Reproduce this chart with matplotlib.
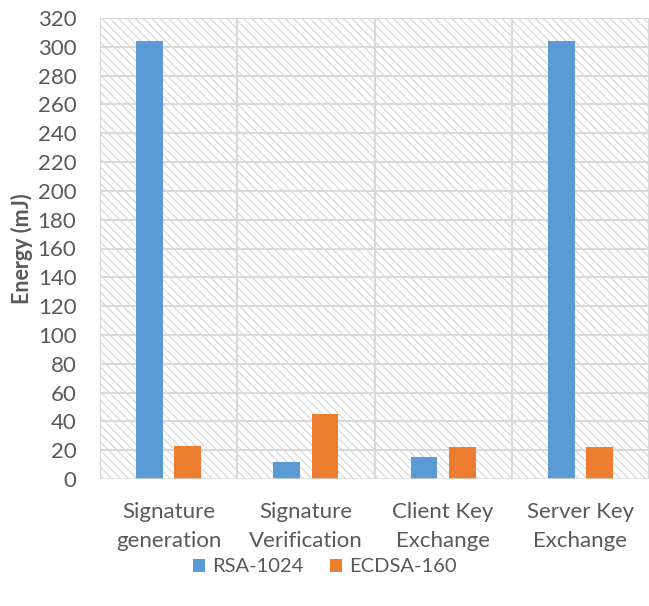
import matplotlib
matplotlib.use("Agg")
import matplotlib.pyplot as plt
from matplotlib.patches import Rectangle
import numpy as np

categories = ["Signature\ngeneration", "Signature\nVerification", "Client Key\nExchange", "Server Key\nExchange"]
rsa_1024 = [304, 12, 15, 304]
ecdsa_160 = [23, 45, 22, 22]
y_ticks = list(range(0, 321, 20))

plt.rcParams["font.family"] = ["Lato", "DejaVu Sans"]
plt.rcParams["hatch.linewidth"] = 0.8

text_color = "#595959"
grid_color = "#d9d9d9"

fig = plt.figure(figsize=(6.49, 6.06), dpi=100)
ax = fig.add_axes([100 / 649, 1 - 479 / 606, 549 / 649, (479 - 18) / 606])

x = np.arange(len(categories))
width = 0.195
offset = 0.14

# hatched plot-area background
bg = Rectangle((0, 0), 1, 1, transform=ax.transAxes, facecolor="white",
               edgecolor="#d6d6d6", hatch="\\\\\\\\", linewidth=0, zorder=0)
ax.add_patch(bg)

ax.bar(x - offset, rsa_1024, width, color="#5b9bd5", label="RSA-1024", zorder=3)
ax.bar(x + offset, ecdsa_160, width, color="#ed7d31", label="ECDSA-160", zorder=3)

ax.set_xlim(-0.5, len(categories) - 0.5)
ax.set_ylim(0, 320)
ax.set_yticks(y_ticks)
ax.set_xticks(x)
ax.set_xticklabels(categories)

# horizontal grid and category separators
for yv in y_ticks[1:]:
    ax.axhline(yv, color=grid_color, linewidth=1.5, zorder=1)
for xv in np.arange(-0.5, len(categories), 1.0):
    ax.axvline(xv, color=grid_color, linewidth=1.5, zorder=1)

for s in ax.spines.values():
    s.set_visible(False)
ax.axhline(0, color=grid_color, linewidth=1.8, zorder=4)

ax.tick_params(axis="both", length=0, labelsize=16, colors=text_color)
ax.tick_params(axis="x", pad=16.5)
ax.tick_params(axis="y", pad=17)
for lbl in ax.get_xticklabels():
    lbl.set_linespacing(1.55)

ax.set_ylabel("Energy (mJ)", fontsize=15.5, fontweight="bold", color=text_color, labelpad=3)

fig.legend(loc="center", bbox_to_anchor=(0.5, 1 - 567 / 606), ncol=2, frameon=False,
           fontsize=14.5, labelcolor=text_color, handlelength=0.6, handleheight=0.6,
           handletextpad=0.35, columnspacing=1.3)

fig.savefig("out.png", dpi=100)
